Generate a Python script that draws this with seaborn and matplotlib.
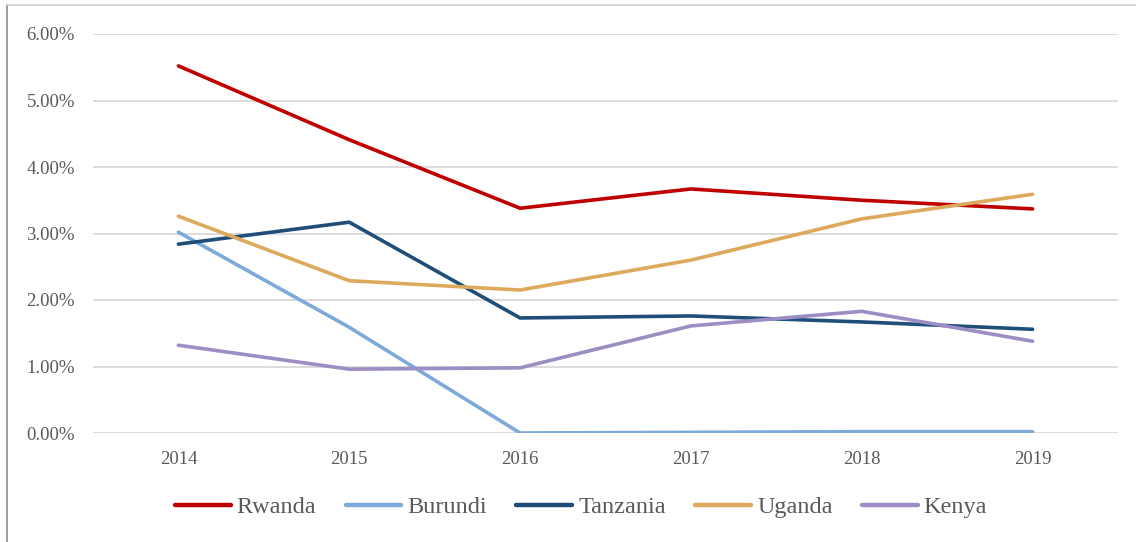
import matplotlib
matplotlib.use("Agg")
import matplotlib.pyplot as plt
import seaborn as sns
import pandas as pd
from matplotlib.lines import Line2D
from matplotlib.ticker import FuncFormatter

years = ["2014", "2015", "2016", "2017", "2018", "2019"]
rwanda = [5.52, 4.41, 3.38, 3.67, 3.50, 3.37]
burundi = [3.02, 1.59, 0.00, 0.01, 0.02, 0.02]
tanzania = [2.84, 3.17, 1.73, 1.76, 1.67, 1.56]
uganda = [3.26, 2.29, 2.15, 2.60, 3.22, 3.59]
kenya = [1.32, 0.96, 0.98, 1.61, 1.83, 1.38]

series = {"Rwanda": rwanda, "Burundi": burundi, "Tanzania": tanzania,
          "Uganda": uganda, "Kenya": kenya}
colors = {"Rwanda": "#C00000", "Burundi": "#7DAAD8", "Tanzania": "#1F4E79",
          "Uganda": "#DDA95C", "Kenya": "#9D8DC5"}

rows = []
for name, vals in series.items():
    for y, v in zip(years, vals):
        rows.append({"Year": y, "Value": v, "Country": name})
df = pd.DataFrame(rows)

sns.set_theme(style="white")
plt.rcParams['font.family'] = ['Liberation Serif', 'DejaVu Serif']

fig = plt.figure(figsize=(11.36, 5.42), dpi=100)
ax = fig.add_axes([93/1136, 1 - 433/542, (1118 - 93)/1136, (433 - 34)/542])

sns.lineplot(data=df, x="Year", y="Value", hue="Country", palette=colors,
             linewidth=2.6, ax=ax, sort=False, legend=False)

ax.set_ylim(0, 6)
ax.set_xlim(-0.5, 5.5)
ax.set_yticks([0, 1, 2, 3, 4, 5, 6])
ax.yaxis.set_major_formatter(FuncFormatter(lambda v, p: f"{v:.2f}%"))
ax.grid(axis="y", color="#D9D9D9", linewidth=1.3)
ax.set_axisbelow(True)
for s in ax.spines.values():
    s.set_visible(False)
ax.tick_params(axis="both", length=0, labelsize=13.5, colors="#595959")
ax.tick_params(axis="y", pad=13)
ax.tick_params(axis="x", pad=13)
ax.set_xlabel("")
ax.set_ylabel("")

handles = [Line2D([0], [0], color=colors[n], linewidth=3.2) for n in series]
fig.legend(handles, list(series.keys()), loc="center", bbox_to_anchor=(581/1136, 1 - 507/542),
           ncol=5, frameon=False, fontsize=17.5, handlelength=2.3, handletextpad=0.25,
           columnspacing=1.2, labelcolor="#595959")

# chart border (left and top)
fig.add_artist(Line2D([7/1136, 7/1136], [0, 1 - 5/542], transform=fig.transFigure,
                      color="#8C8C8C", linewidth=1.2))
fig.add_artist(Line2D([7/1136, 1], [1 - 5/542, 1 - 5/542], transform=fig.transFigure,
                      color="#D0D0D0", linewidth=1.2))

fig.savefig("out.png", dpi=100, facecolor="white")
